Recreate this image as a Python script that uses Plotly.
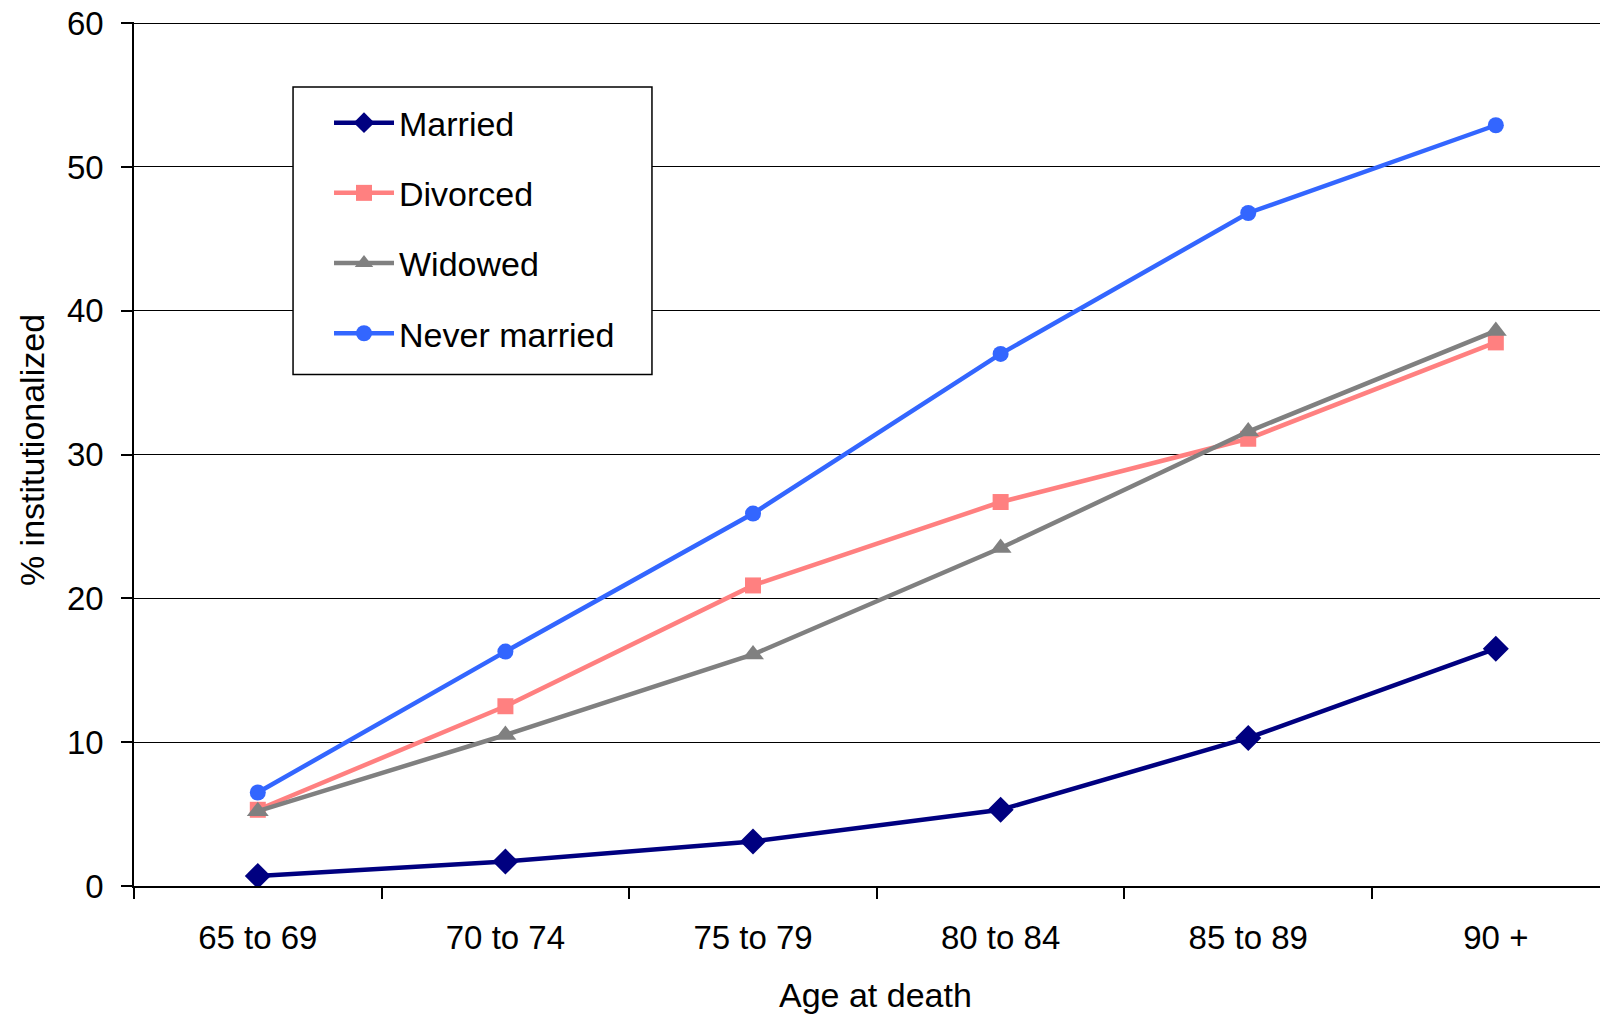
import plotly.graph_objects as go

categories = ["65 to 69", "70 to 74", "75 to 79", "80 to 84", "85 to 89", "90 +"]
married = [0.7, 1.7, 3.1, 5.3, 10.3, 16.5]
divorced = [5.3, 12.5, 20.9, 26.7, 31.1, 37.8]
widowed = [5.2, 10.5, 16.1, 23.5, 31.6, 38.6]
never_married = [6.5, 16.3, 25.9, 37.0, 46.8, 52.9]
y_ticks = [0, 10, 20, 30, 40, 50, 60]

FONT = "Liberation Sans, Arial, sans-serif"

series = [
    ("Married", married, "#000080", "diamond", 20),
    ("Divorced", divorced, "#FF8080", "square", 16),
    ("Widowed", widowed, "#808080", "triangle-up", 19),
    ("Never married", never_married, "#3366FF", "circle", 16),
]

fig = go.Figure()
for i, (name, vals, color, sym, size) in enumerate(series):
    fig.add_trace(go.Scatter(
        x=categories, y=vals, name=name, mode="lines+markers",
        line=dict(color=color, width=4.5),
        marker=dict(symbol=sym, size=size, color=color, line=dict(width=0)),
        legendgroup=f"g{i}",
    ))

fig.update_layout(
    width=1600, height=1006,
    margin=dict(l=126, r=0, t=14, b=128),
    paper_bgcolor="white", plot_bgcolor="white",
    font=dict(family=FONT, size=33, color="black"),
    showlegend=True,
    legend=dict(
        x=0.1323, y=0.9166, xanchor="left", yanchor="top",
        borderwidth=0, bgcolor="rgba(0,0,0,0)",
        font=dict(family=FONT, size=34, color="black"),
        tracegroupgap=23, itemwidth=60,
    ),
    xaxis=dict(
        type="category", range=[-0.5, 5.453], automargin=False,
        showline=True, linecolor="black", linewidth=1.5,
        ticks="outside", tickson="boundaries", ticklen=11, tickcolor="black", tickwidth=1.5,
        showgrid=False, zeroline=False, ticklabelstandoff=22,
        tickfont=dict(family=FONT, size=33, color="black"),
    ),
    yaxis=dict(
        range=[0, 60.08], tickvals=y_ticks, automargin=False,
        showline=True, linecolor="black", linewidth=1.5,
        ticks="outside", ticklen=11, tickcolor="black", tickwidth=1.5,
        showgrid=True, gridcolor="black", gridwidth=1.3, zeroline=False,
        ticklabelstandoff=11, ticklabeloverflow="allow",
        tickfont=dict(family=FONT, size=33, color="black"),
    ),
    shapes=[
        dict(type="rect", xref="paper", yref="paper",
             x0=0.1079, x1=0.3514, y0=0.5921, y1=0.9247,
             line=dict(color="black", width=1.5), fillcolor="white", layer="above"),
    ],
    annotations=[
        dict(text="Age at death", x=0.503, y=-0.126, xref="paper", yref="paper",
             xanchor="center", yanchor="middle", showarrow=False,
             font=dict(family=FONT, size=34, color="black")),
        dict(text="% institutionalized", x=-0.0695, y=0.504, xref="paper", yref="paper",
             xanchor="center", yanchor="middle", showarrow=False, textangle=-90,
             font=dict(family=FONT, size=34, color="black")),
    ],
)

fig.write_html("out.html")
